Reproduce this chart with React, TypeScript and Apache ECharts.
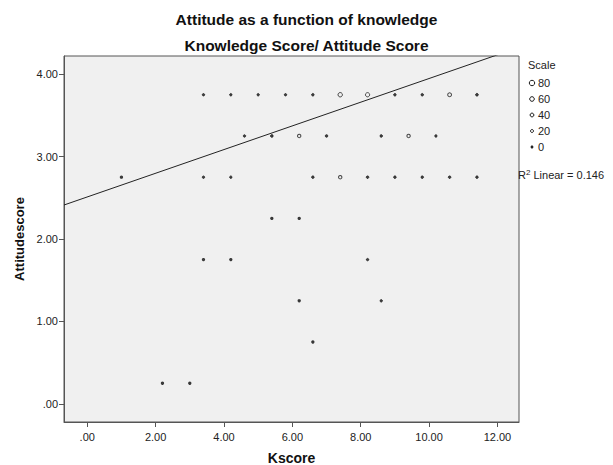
import React, { useEffect, useRef } from "react";
import * as echarts from "echarts";

const kscore = [
  3.4, 4.2, 5.0, 5.8, 6.6, 7.4, 8.2, 9.0, 9.8, 10.6, 11.4,
  4.6, 5.4, 6.2, 7.0, 8.6, 9.4, 10.2,
  1.0, 3.4, 4.2, 6.6, 7.4, 8.2, 9.0, 9.8, 10.6, 11.4,
  5.4, 6.2,
  3.4, 4.2, 8.2,
  6.2, 8.6,
  6.6,
  2.2, 3.0,
  5.4, 6.2, 7.0, 7.8, 8.6, 9.4, 10.2,
];
const attitude = [
  3.75, 3.75, 3.75, 3.75, 3.75, 3.75, 3.75, 3.75, 3.75, 3.75, 3.75,
  3.25, 3.25, 3.25, 3.25, 3.25, 3.25, 3.25,
  2.75, 2.75, 2.75, 2.75, 2.75, 2.75, 2.75, 2.75, 2.75, 2.75,
  2.25, 2.25,
  1.75, 1.75, 1.75,
  1.25, 1.25,
  0.75,
  0.25, 0.25,
  4.25, 4.25, 4.25, 4.25, 4.25, 4.25, 4.25,
];
const caseCount = [
  5, 5, 5, 5, 8, 55, 50, 8, 8, 40, 12,
  5, 12, 30, 8, 8, 30, 5,
  4, 5, 5, 8, 30, 8, 8, 8, 8, 8,
  4, 4,
  4, 4, 5,
  4, 5,
  4,
  4, 4,
  4, 4, 3, 3, 5, 40, 5,
];
const scaleLegend = [80, 60, 40, 20, 0];
const xTicks = [0, 2, 4, 6, 8, 10, 12];
const yTicks = [0, 1, 2, 3, 4];
const fitIntercept = 2.51;
const fitSlope = 0.1437;
const r2Text = "0.146";

const X_MIN = -0.68;
const X_MAX = 12.63;
const Y_MIN = -0.22;
const Y_MAX = 4.22;

const FONT = "Arial, 'Liberation Sans', sans-serif";
const sizeFor = (c: number) => 2.2 + c * 0.04;
const fillFor = (c: number) => (c <= 15 ? "#1a1a1a" : "rgba(0,0,0,0)");
const fmt = (v: number) => {
  const s = v.toFixed(2);
  return s.startsWith("0") ? s.slice(1) : s;
};

export default function App() {
  const ref = useRef<HTMLDivElement>(null);
  useEffect(() => {
    if (!ref.current) return;
    const chart = echarts.init(ref.current, null, { renderer: "svg" });
    const points = kscore.map((x, i) => ({
      value: [x, attitude[i], caseCount[i]],
      itemStyle: { color: fillFor(caseCount[i]) },
    }));
    const legendGraphics: any[] = [
      {
        type: "text",
        x: 528,
        y: 65,
        style: { text: "Scale", font: `11px ${FONT}`, fill: "#222", verticalAlign: "middle" },
      },
    ];
    scaleLegend.forEach((v, i) => {
      const cy = 83 + i * 16;
      legendGraphics.push({
        type: "circle",
        shape: { cx: 532, cy, r: sizeFor(v) / 2 },
        style: { fill: fillFor(v), stroke: "#1a1a1a", lineWidth: 1 },
      });
      legendGraphics.push({
        type: "text",
        x: 538,
        y: cy,
        style: {
          text: String(v),
          font: `11px ${FONT}`,
          fill: "#222",
          verticalAlign: "middle",
        },
      });
    });
    legendGraphics.push({
      type: "text",
      x: 518,
      y: 175,
      style: {
        text: "{a|R}{s|2}{a| Linear = " + r2Text + "}",
        verticalAlign: "middle",
        rich: {
          a: { font: `11px ${FONT}`, fill: "#222" },
          s: { font: `8px ${FONT}`, fill: "#222", verticalAlign: "top", padding: [0, 0, 6, 0] },
        },
      },
    });

    chart.setOption({
      animation: false,
      backgroundColor: "#ffffff",
      title: [
        {
          text: "Attitude as a function of knowledge",
          left: "center",
          top: 6,
          textStyle: { fontFamily: FONT, fontSize: 15.5, fontWeight: "bold", color: "#111" },
        },
        {
          text: "Knowledge Score/ Attitude Score",
          left: "center",
          top: 32,
          textStyle: { fontFamily: FONT, fontSize: 15.5, fontWeight: "bold", color: "#111" },
        },
      ],
      grid: {
        left: 64,
        top: 56,
        right: 94,
        bottom: 43,
        outerBoundsMode: "none",
        containLabel: false,
        show: true,
        backgroundColor: "#f0f0f0",
        borderColor: "#555",
        borderWidth: 1,
      },
      xAxis: {
        type: "value",
        min: X_MIN,
        max: X_MAX,
        name: "Kscore",
        nameLocation: "middle",
        nameGap: 29,
        nameTextStyle: { fontFamily: FONT, fontSize: 14, fontWeight: "bold", color: "#111" },
        axisLine: { show: true, onZero: false, lineStyle: { color: "#555" } },
        axisTick: { show: true, customValues: xTicks, length: 5, lineStyle: { color: "#555" } },
        axisLabel: {
          customValues: xTicks,
          formatter: (v: number) => fmt(v),
          fontFamily: FONT,
          fontSize: 11,
          color: "#222",
          margin: 9,
        },
        splitLine: { show: false },
      },
      yAxis: {
        type: "value",
        min: Y_MIN,
        max: Y_MAX,
        name: "Attitudescore",
        nameLocation: "middle",
        nameGap: 35,
        nameTextStyle: { fontFamily: FONT, fontSize: 13, fontWeight: "bold", color: "#111" },
        axisLine: { show: true, onZero: false, lineStyle: { color: "#555" } },
        axisTick: { show: true, customValues: yTicks, length: 5, lineStyle: { color: "#555" } },
        axisLabel: {
          customValues: yTicks,
          formatter: (v: number) => fmt(v),
          fontFamily: FONT,
          fontSize: 11,
          color: "#222",
          margin: 6,
        },
        splitLine: { show: false },
      },
      series: [
        {
          type: "scatter",
          data: points,
          clip: true,
          symbol: "circle",
          symbolSize: (val: number[]) => sizeFor(val[2]),
          itemStyle: { borderColor: "#1a1a1a", borderWidth: 1 },
          emphasis: { disabled: true },
        },
        {
          type: "line",
          clip: true,
          showSymbol: false,
          data: [
            [X_MIN, fitIntercept + fitSlope * X_MIN],
            [X_MAX, fitIntercept + fitSlope * X_MAX],
          ],
          lineStyle: { color: "#222", width: 1 },
          emphasis: { disabled: true },
        },
      ],
      graphic: legendGraphics,
    });
    return () => chart.dispose();
  }, []);
  return (
    <div
      ref={ref}
      style={{ position: "fixed", left: 0, top: 0, width: 613, height: 465 }}
    />
  );
}
